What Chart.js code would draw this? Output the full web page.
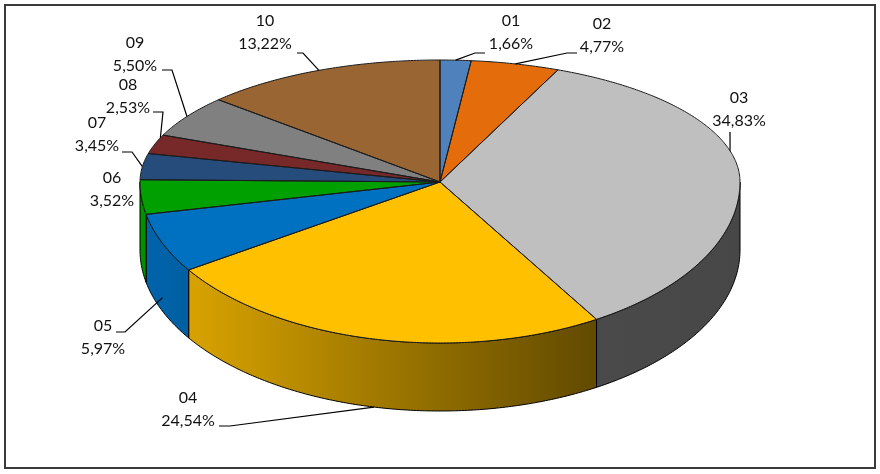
<!DOCTYPE html>
<html>
<head>
<meta charset="utf-8">
<script src="https://cdn.jsdelivr.net/npm/chart.js@4.4.0/dist/chart.umd.min.js"></script>
<style>
  html, body { margin: 0; padding: 0; background: #fff; }
  canvas { display: block; }
</style>
</head>
<body>
<canvas id="pieChart" width="880" height="474"></canvas>
<script>
// Chart data
const categories = ['01', '02', '03', '04', '05', '06', '07', '08', '09', '10'];
const shares = [1.66, 4.77, 34.83, 24.54, 5.97, 3.52, 3.45, 2.53, 5.50, 13.22];
const shareLabels = ['1,66%', '4,77%', '34,83%', '24,54%', '5,97%', '3,52%', '3,45%', '2,53%', '5,50%', '13,22%'];
const sliceColors = ['#4F81BD', '#E46C0A', '#BFBFBF', '#FFC000', '#0070C0', '#00A000', '#264C7C', '#772828', '#808080', '#996633'];

// Fake 3D geometry (top face = two half ellipses, side wall below)
const CX = 440, CY = 182, RX = 300, RY_BACK = 122, RY_FRONT = 161, DEPTH = 68;

// Label placement: text centre, leader elbow points, where the leader hits the slice
const labelLayout = [
    { x: 511, y: 21, leader: [[485, 53], [475, 53]] },
    { x: 602, y: 24, leader: [[577, 53], [567, 53]] },
    { x: 739, y: 98, leader: [[730, 132]], at: 0.415 },
    { x: 188, y: 398, leader: [[219, 426], [230, 426]], drop: 1 },
    { x: 103, y: 326, leader: [[116, 332], [125, 332]], drop: 0.8 },
    { x: 112, y: 178, leader: null },
    { x: 97, y: 123, leader: [[122, 152], [132, 152]] },
    { x: 128, y: 85, leader: [[153, 112], [163, 112]], at: 0.85 },
    { x: 135, y: 43, leader: [[162, 70], [172, 70]] },
    { x: 265, y: 21, leader: [[297, 53], [303, 53]] }
];

function ellPt(t, dy) {
    const s = Math.sin(t);
    return [CX + RX * Math.cos(t), CY + s * (s < 0 ? RY_BACK : RY_FRONT) + (dy || 0)];
}

function shade(hex, f) {
    const n = parseInt(hex.slice(1), 16);
    const r = Math.round(((n >> 16) & 255) * f);
    const g = Math.round(((n >> 8) & 255) * f);
    const b = Math.round((n & 255) * f);
    return `rgb(${r},${g},${b})`;
}

function topPath(ctx, a, b) {
    ctx.beginPath();
    ctx.moveTo(CX, CY);
    const n = Math.max(2, Math.ceil((b - a) / 0.01));
    for (let i = 0; i <= n; i++) {
        const p = ellPt(a + (b - a) * i / n);
        ctx.lineTo(p[0], p[1]);
    }
    ctx.closePath();
}

function sidePath(ctx, a, b) {
    ctx.beginPath();
    const n = Math.max(2, Math.ceil((b - a) / 0.01));
    for (let i = 0; i <= n; i++) {
        const p = ellPt(a + (b - a) * i / n);
        i === 0 ? ctx.moveTo(p[0], p[1]) : ctx.lineTo(p[0], p[1]);
    }
    for (let i = n; i >= 0; i--) {
        const p = ellPt(a + (b - a) * i / n, DEPTH);
        ctx.lineTo(p[0], p[1]);
    }
    ctx.closePath();
}

const pie3dPlugin = {
    id: 'pie3d',
    beforeDatasetsDraw(chart) {
        const ctx = chart.ctx;
        const meta = chart.getDatasetMeta(0);
        const arcs = meta.data;
        const R = arcs[0].outerRadius, ox = arcs[0].x, oy = arcs[0].y;

        // side walls (front half only)
        arcs.forEach((arc, i) => {
            const a = Math.max(arc.startAngle, 0);
            const b = Math.min(arc.endAngle, Math.PI);
            if (a >= b) return;
            const grad = ctx.createLinearGradient(CX - RX, 0, CX + RX, 0);
            grad.addColorStop(0, shade(sliceColors[i], 0.9));
            grad.addColorStop(0.75, shade(sliceColors[i], 0.39));
            grad.addColorStop(1, shade(sliceColors[i], 0.37));
            ctx.save();
            sidePath(ctx, a, b);
            ctx.fillStyle = grad;
            ctx.fill();
            ctx.lineWidth = 1;
            ctx.strokeStyle = '#000';
            ctx.stroke();
            ctx.restore();
        });

        // top face: library arcs squashed, back half and front half separately
        [[0, CY, RY_BACK], [CY, 474 - CY, RY_FRONT]].forEach(([y0, h, ry]) => {
            ctx.save();
            ctx.beginPath();
            ctx.rect(0, y0, 880, h);
            ctx.clip();
            ctx.translate(CX, CY);
            ctx.scale(RX / R, ry / R);
            ctx.translate(-ox, -oy);
            meta.controller.draw();
            ctx.restore();
        });

        // outlines
        ctx.save();
        ctx.lineWidth = 1;
        ctx.strokeStyle = '#1a1a1a';
        ctx.lineJoin = 'round';
        arcs.forEach(arc => {
            topPath(ctx, arc.startAngle, arc.endAngle);
            ctx.stroke();
        });
        ctx.restore();
        return false;
    },
    afterDraw(chart) {
        const ctx = chart.ctx;
        const arcs = chart.getDatasetMeta(0).data;
        ctx.save();
        ctx.font = '16px Lato, "Open Sans", sans-serif';
        ctx.fillStyle = '#111';
        ctx.textAlign = 'center';
        ctx.textBaseline = 'middle';
        ctx.strokeStyle = '#000';
        ctx.lineWidth = 1.2;
        labelLayout.forEach((l, i) => {
            ctx.fillText(categories[i], l.x, l.y);
            ctx.fillText(shareLabels[i], l.x, l.y + 23);
            if (!l.leader) return;
            const arc = arcs[i];
            const t = arc.startAngle + (arc.endAngle - arc.startAngle) * (l.at ?? 0.5);
            const p = ellPt(t, DEPTH * (l.drop || 0));
            ctx.beginPath();
            ctx.moveTo(l.leader[0][0], l.leader[0][1]);
            l.leader.slice(1).forEach(q => ctx.lineTo(q[0], q[1]));
            ctx.lineTo(p[0], p[1]);
            ctx.stroke();
        });
        // chart frame
        ctx.lineWidth = 2;
        ctx.strokeStyle = '#3a3a3a';
        ctx.strokeRect(5, 5, 870, 463);
        ctx.restore();
    }
};

new Chart(document.getElementById('pieChart'), {
    type: 'pie',
    data: {
        labels: categories,
        datasets: [{
            data: shares,
            backgroundColor: sliceColors,
            borderWidth: 0,
            clip: false
        }]
    },
    options: {
        responsive: false,
        animation: false,
        events: [],
        plugins: {
            legend: { display: false },
            tooltip: { enabled: false }
        }
    },
    plugins: [pie3dPlugin]
});
</script>
</body>
</html>
